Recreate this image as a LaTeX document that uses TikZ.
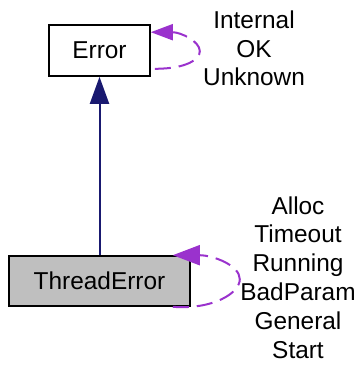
\documentclass[tikz,border=0pt]{standalone}
\usepackage{fontspec}
\setmainfont{Liberation Sans}
\usetikzlibrary{arrows.meta}
\definecolor{navyedge}{HTML}{191970}
\definecolor{purpleedge}{HTML}{9A32CD}
\definecolor{grayfill}{HTML}{BFBFBF}
\begin{document}
\begin{tikzpicture}[x=1pt,y=-1pt,
  box/.style={draw=black,line width=1.6pt,inner sep=0pt,font=\fontsize{24.4}{28.5}\selectfont},
  lbl/.style={align=center,inner sep=0pt,anchor=base,font=\fontsize{24.4}{28.8}\selectfont},
  selfloop/.style={draw=purpleedge,line width=2pt,dash pattern=on 16pt off 8pt},
  inherit/.style={draw=navyedge,line width=2pt}]
\useasboundingbox (0,0) rectangle (361,366);
\node[box,minimum width=101pt,minimum height=51pt] (err) at (99.5,50.5) {Error};
\node[box,fill=grayfill,minimum width=181pt,minimum height=50pt] (te) at (99.5,281) {ThreadError};
\draw[inherit,-{Triangle[length=27pt,width=19pt]}] (te.north) -- (err.south);
\draw[selfloop,-{Triangle[length=22pt,width=16pt]}]
  ([shift={(4,-8)}]err.south east) .. controls +(32,0) and +(0,8) .. ([shift={(49,27)}]err.north east)
  .. controls +(0,-10) and +(30,0) .. ([shift={(0,8)}]err.north east);
\draw[selfloop,-{Triangle[length=27pt,width=20pt]}]
  ([shift={(-18,0)}]te.south east) .. controls +(40,3) and +(0,14) .. ([shift={(49,24)}]te.north east)
  .. controls +(0,-14) and +(40,0) .. ([shift={(-18,0)}]te.north east);
\node[lbl] (errl) at (254,86) {Internal\\OK\\Unknown};
\node[lbl] (tel) at (298,358) {Alloc\\Timeout\\Running\\BadParam\\General\\Start};
\end{tikzpicture}
\end{document}
